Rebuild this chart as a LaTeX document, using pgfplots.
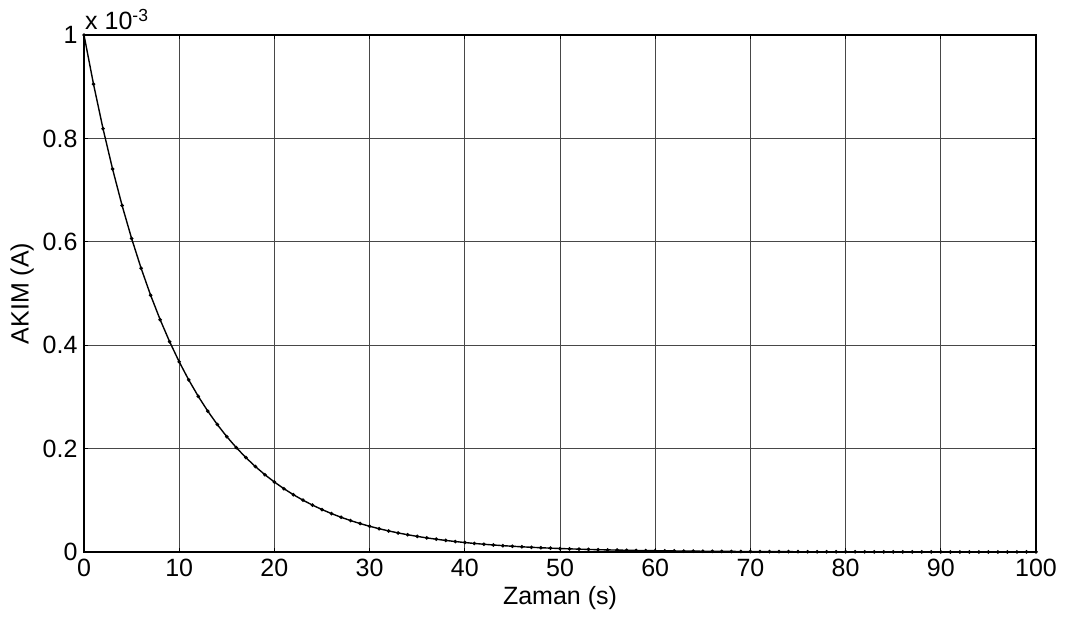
\documentclass[border=0pt]{standalone}
\usepackage{pgfplots}
\pgfplotsset{compat=1.18}
\usepackage{fontspec}
\setmainfont{Liberation Sans}
\begin{document}
\fontsize{25bp}{30bp}\selectfont
\begin{tikzpicture}
\useasboundingbox (-84bp,-70bp) rectangle (981bp,552bp);
\begin{axis}[
  scale only axis,
  width=952bp, height=517bp,
  at={(0,0)}, anchor=south west,
  xmin=0, xmax=100, ymin=0, ymax=1,
  xtick={0,10,...,100},
  ytick={0,0.2,0.4,0.6,0.8,1},
  yticklabels={0,0.2,0.4,0.6,0.8,1},
  /pgf/number format/assume math mode=true,
  ticklabel style={font=\fontsize{25bp}{30bp}\selectfont},
  label style={font=\fontsize{25bp}{30bp}\selectfont},
  xticklabel style={yshift=1bp},
  yticklabel style={xshift=2bp},
  grid=major,
  major grid style={line width=1bp, draw=black!72},
  axis line style={line width=1.8bp, draw=black},
  tick style={line width=0.8bp, draw=black},
  major tick length=4bp,
  tick align=inside,
  xlabel={Zaman (s)},
  ylabel={AKIM (A)},
  xlabel style={at={(axis description cs:0.5,-0.09)}, anchor=center},
  ylabel style={at={(axis description cs:-0.065,0.5)}, anchor=center},
  clip=false,
]
\addplot[black, line width=1.4bp, mark=*, mark size=1bp, mark options={fill=black}] coordinates {
(0,1)(1,0.904837)(2,0.818731)(3,0.740818)(4,0.670320)(5,0.606531)(6,0.548812)(7,0.496585)(8,0.449329)(9,0.406570)
(10,0.367879)(11,0.332871)(12,0.301194)(13,0.272532)(14,0.246597)(15,0.223130)(16,0.201897)(17,0.182684)(18,0.165299)(19,0.149569)
(20,0.135335)(21,0.122456)(22,0.110803)(23,0.100259)(24,0.090718)(25,0.082085)(26,0.074274)(27,0.067206)(28,0.060810)(29,0.055023)
(30,0.049787)(31,0.045049)(32,0.040762)(33,0.036883)(34,0.033373)(35,0.030197)(36,0.027324)(37,0.024724)(38,0.022371)(39,0.020242)
(40,0.018316)(41,0.016573)(42,0.014996)(43,0.013569)(44,0.012277)(45,0.011109)(46,0.010052)(47,0.009095)(48,0.008230)(49,0.007447)
(50,0.006738)(51,0.006097)(52,0.005517)(53,0.004992)(54,0.004517)(55,0.004087)(56,0.003698)(57,0.003346)(58,0.003028)(59,0.002739)
(60,0.002479)(61,0.002243)(62,0.002029)(63,0.001836)(64,0.001662)(65,0.001503)(66,0.001360)(67,0.001231)(68,0.001114)(69,0.001008)
(70,0.000912)(71,0.000825)(72,0.000747)(73,0.000676)(74,0.000611)(75,0.000553)(76,0.000500)(77,0.000453)(78,0.000410)(79,0.000371)
(80,0.000335)(81,0.000304)(82,0.000275)(83,0.000249)(84,0.000225)(85,0.000203)(86,0.000184)(87,0.000167)(88,0.000151)(89,0.000136)
(90,0.000123)(91,0.000112)(92,0.000101)(93,0.000091)(94,0.000083)(95,0.000075)(96,0.000068)(97,0.000061)(98,0.000056)(99,0.000050)
(100,0.000045)
};
\node[anchor=base west, inner sep=0pt, font=\fontsize{25bp}{30bp}\selectfont] at ([xshift=1bp,yshift=5bp]rel axis cs:0,1) {x 10\textsuperscript{-3}};
\end{axis}
\end{tikzpicture}
\end{document}
